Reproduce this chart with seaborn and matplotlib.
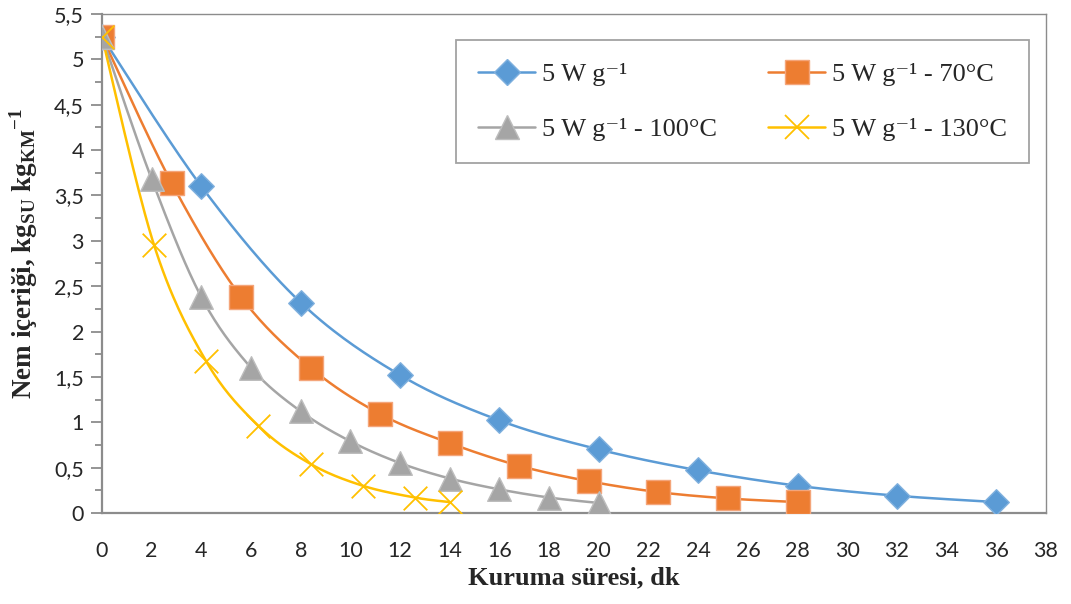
import numpy as np
import pandas as pd
import matplotlib
matplotlib.use("Agg")
import matplotlib.pyplot as plt
import seaborn as sns
from matplotlib.lines import Line2D
from matplotlib.ticker import MultipleLocator, FuncFormatter

# ---- data ----
t_5w = [0, 4, 8, 12, 16, 20, 24, 28, 32, 36]
m_5w = [5.25, 3.60, 2.32, 1.52, 1.02, 0.70, 0.47, 0.30, 0.19, 0.12]

t_70 = [0, 2.8, 5.6, 8.4, 11.2, 14, 16.8, 19.6, 22.4, 25.2, 28]
m_70 = [5.25, 3.64, 2.38, 1.60, 1.09, 0.77, 0.52, 0.35, 0.23, 0.16, 0.12]

t_100 = [0, 2, 4, 6, 8, 10, 12, 14, 16, 18, 20]
m_100 = [5.25, 3.68, 2.38, 1.60, 1.12, 0.79, 0.55, 0.38, 0.26, 0.17, 0.11]

t_130 = [0, 2.1, 4.2, 6.3, 8.4, 10.5, 12.6, 14]
m_130 = [5.25, 2.95, 1.67, 0.96, 0.54, 0.30, 0.17, 0.12]

labels = ["5 W g\u207b\u00b9", "5 W g\u207b\u00b9 - 70°C",
          "5 W g\u207b\u00b9 - 100°C", "5 W g\u207b\u00b9 - 130°C"]
colors = ["#5B9BD5", "#ED7D31", "#A5A5A5", "#FFC000"]
edges = ["#7FB0DE", "#F4A57A", "#BDBDBD", "#FFC000"]
markers = ["D", "s", "^", "x"]
msizes = [13, 17, 17, 17]

series = [(t_5w, m_5w), (t_70, m_70), (t_100, m_100), (t_130, m_130)]


def smooth(x, y, n=30):
    """Excel-like smoothed line (Catmull-Rom Bezier) through the points."""
    x = np.asarray(x, float)
    y = np.asarray(y, float)
    P = np.column_stack([x, y])
    Pext = np.vstack([P[0], P, P[-1]])
    out = []
    for i in range(len(P) - 1):
        p0, p1, p2, p3 = Pext[i], Pext[i + 1], Pext[i + 2], Pext[i + 3]
        c1 = p1 + (p2 - p0) / 6.0
        c2 = p2 - (p3 - p1) / 6.0
        s = np.linspace(0, 1, n, endpoint=(i == len(P) - 2))[:, None]
        b = ((1 - s) ** 3) * p1 + 3 * ((1 - s) ** 2) * s * c1 + 3 * (1 - s) * s ** 2 * c2 + s ** 3 * p2
        out.append(b)
    out = np.vstack(out)
    return out[:, 0], out[:, 1]


sns.set_style("white")
plt.rcParams["font.family"] = ["Lato", "DejaVu Sans"]
plt.rcParams["mathtext.fontset"] = "custom"
plt.rcParams["mathtext.rm"] = "Liberation Serif:bold"
plt.rcParams["mathtext.bf"] = "Liberation Serif:bold"
plt.rcParams["mathtext.it"] = "Liberation Serif:bold"

fig = plt.figure(figsize=(10.71, 6.04), dpi=100)
ax = fig.add_axes([0.0952, 0.1507, 0.9767 - 0.0952, 0.9768 - 0.1507])

for i, (t, m) in enumerate(series):
    xs, ys = smooth(t, m)
    df = pd.DataFrame({"t": xs, "m": ys})
    sns.lineplot(data=df, x="t", y="m", ax=ax, color=colors[i], lw=1.8,
                 sort=False, estimator=None, legend=False, zorder=2 + i)

for i, (t, m) in enumerate(series):
    df = pd.DataFrame({"t": t, "m": m})
    if markers[i] == "x":
        sns.scatterplot(data=df, x="t", y="m", ax=ax, marker="x", s=msizes[i] ** 2,
                        color=colors[i], linewidth=1.3, legend=False, zorder=10 + i)
    else:
        sns.scatterplot(data=df, x="t", y="m", ax=ax, marker=markers[i], s=msizes[i] ** 2,
                        color=colors[i], edgecolor=edges[i], linewidth=1.0,
                        legend=False, zorder=10 + i)

ax.set_xlim(0, 38)
ax.set_ylim(0, 5.5)
ax.xaxis.set_major_locator(MultipleLocator(2))
ax.yaxis.set_major_locator(MultipleLocator(0.5))
ax.yaxis.set_minor_locator(MultipleLocator(0.25))


def fmt(v, pos):
    s = ("%.1f" % v)
    if s.endswith(".0"):
        s = s[:-2]
    return s.replace(".", ",")


ax.yaxis.set_major_formatter(FuncFormatter(fmt))
ax.xaxis.set_major_formatter(FuncFormatter(lambda v, p: "%d" % v))

for side in ["left", "bottom", "right", "top"]:
    ax.spines[side].set_visible(True)
    ax.spines[side].set_color("#8C8C8C")
    ax.spines[side].set_linewidth(1.0)
ax.spines["left"].set_linewidth(1.6)
ax.spines["bottom"].set_linewidth(1.6)

ax.tick_params(axis="y", which="major", direction="out", length=8, width=1.3,
               color="#8C8C8C", labelsize=15.5, pad=5, left=True)
ax.tick_params(axis="y", which="minor", direction="out", length=5, width=1.3,
               color="#8C8C8C", left=True)
ax.tick_params(axis="x", which="major", length=0, labelsize=15.5, pad=20, bottom=True)
ax.grid(False)

ax.set_xlabel("Kuruma süresi, dk", fontsize=19, fontweight="bold",
              family=["Liberation Serif", "DejaVu Serif"], labelpad=4)
ax.set_ylabel("Nem içeriği, kg$_{\\mathbf{SU}}$ kg$_{\\mathbf{KM}}{}^{\\mathbf{-1}}$",
              fontsize=19.5, fontweight="bold",
              family=["Liberation Serif", "DejaVu Serif"])
ax.yaxis.set_label_coords(-0.066, 0.52)

handles = []
for i in range(4):
    if markers[i] == "x":
        h = Line2D([0], [0], color=colors[i], lw=1.8, marker="x", markersize=msizes[i],
                   markeredgewidth=1.3)
    else:
        h = Line2D([0], [0], color=colors[i], lw=1.8, marker=markers[i],
                   markersize=msizes[i], markerfacecolor=colors[i],
                   markeredgecolor=edges[i])
    handles.append(h)

order = [0, 2, 1, 3]
leg = ax.legend([handles[k] for k in order], [labels[k] for k in order], ncol=2,
                loc="upper left",
                bbox_to_anchor=(0.375, 0.948, 0.607, 0.0), mode="expand",
                frameon=True, fancybox=False, edgecolor="#8C8C8C",
                prop={"family": ["Liberation Serif", "DejaVu Serif"], "size": 19},
                handlelength=2.15, handletextpad=0.25, borderpad=0.85,
                labelspacing=1.2, columnspacing=1.6, borderaxespad=0)
leg.get_frame().set_linewidth(1.3)

fig.savefig("out.png", dpi=100)
